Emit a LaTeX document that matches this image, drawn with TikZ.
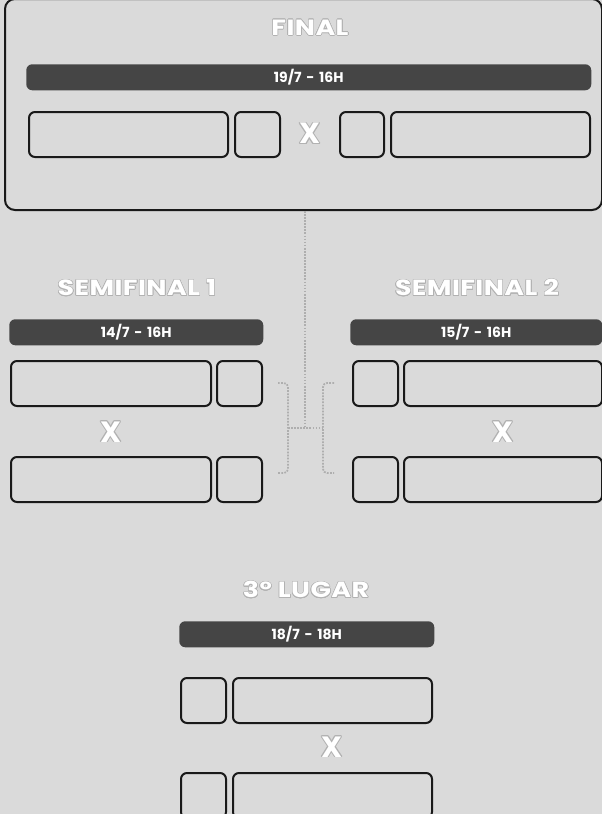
\documentclass[tikz,border=0pt]{standalone}
\usepackage{fontspec}
\setmainfont{Poppins}
\newfontfamily\widefont[FakeStretch=1.22, LetterSpace=2]{Poppins}
\newfontfamily\datefont[WordSpace=1.6]{Poppins}
\usepackage[copies]{contour}
\contourlength{0.45pt}
\contournumber{16}
\definecolor{bg}{HTML}{DADADA}
\definecolor{bar}{HTML}{454545}
\definecolor{rim}{HTML}{B2B2B2}
\definecolor{dots}{HTML}{AEAEAE}

\tikzset{
  teambox/.style={draw=black!90, line width=1.5pt, rounded corners=4.5pt, fill=bg, inner sep=0pt, anchor=north west, minimum height=45*0.75pt},
  datebar/.style={fill=bar, rounded corners=4.5pt, text=white, font=\datefont\bfseries\fontsize{10.5}{11}\selectfont, inner sep=0pt, anchor=north west, minimum height=26*0.75pt},
  title/.style={text=white, font=\widefont\bfseries\fontsize{16.5}{18}\selectfont, inner sep=0pt},
  versus/.style={text=white, font=\bfseries\fontsize{22}{24}\selectfont, inner sep=0pt},
  link/.style={draw=dots, line width=1.3pt, densely dotted}
}

\begin{document}
\begin{tikzpicture}[x=0.75pt,y=0.75pt,yscale=-1,xscale=1]
\fill[bg] (0,0) rectangle (602,814);
\useasboundingbox (0,0) rectangle (602,814);
\clip (0,0) rectangle (602,814);

% Final
\node[draw=black!90, line width=1.5pt, rounded corners=7.5pt, inner sep=0pt, anchor=north west, minimum width=597*0.75pt, minimum height=211*0.75pt] (final) at (4,-2) {};
\node[title] (finalT) at (310,28) {\contour{rim}{FINAL}};
\node[datebar, minimum width=565*0.75pt] (finalD) at (26,64) {19/7 - 16H};
\node[teambox, minimum width=199*0.75pt] (finalA) at (28,111) {};
\node[teambox, minimum width=45*0.75pt] (finalAs) at (234,111) {};
\node[versus] (finalX) at (310,134) {\contour{rim}{X}};
\node[teambox, minimum width=44*0.75pt] (finalBs) at (339,111) {};
\node[teambox, minimum width=199*0.75pt] (finalB) at (390,111) {};

% Semifinal 1
\node[title] (semiOneT) at (137,288) {\contour{rim}{SEMIFINAL 1}};
\node[datebar, minimum width=254*0.75pt] (semiOneD) at (9,319) {14/7 - 16H};
\node[teambox, minimum width=200*0.75pt] (semiOneA) at (10,360) {};
\node[teambox, minimum width=45*0.75pt] (semiOneAs) at (216,360) {};
\node[versus] (semiOneX) at (111,432) {\contour{rim}{X}};
\node[teambox, minimum width=200*0.75pt] (semiOneB) at (10,456) {};
\node[teambox, minimum width=45*0.75pt] (semiOneBs) at (216,456) {};

% Semifinal 2
\node[title] (semiTwoT) at (477,288) {\contour{rim}{SEMIFINAL 2}};
\node[datebar, minimum width=252*0.75pt] (semiTwoD) at (350,319) {15/7 - 16H};
\node[teambox, minimum width=45*0.75pt] (semiTwoAs) at (352,360) {};
\node[teambox, minimum width=198*0.75pt] (semiTwoA) at (403,360) {};
\node[versus] (semiTwoX) at (503,432) {\contour{rim}{X}};
\node[teambox, minimum width=45*0.75pt] (semiTwoBs) at (352,456) {};
\node[teambox, minimum width=198*0.75pt] (semiTwoB) at (403,456) {};

% 3o lugar
\node[title] (thirdT) at (306,590) {\contour{rim}{3º LUGAR}};
\node[datebar, minimum width=255*0.75pt] (thirdD) at (179,621) {18/7 - 18H};
\node[teambox, minimum width=45*0.75pt] (thirdAs) at (180,677) {};
\node[teambox, minimum width=199*0.75pt] (thirdA) at (232,677) {};
\node[versus] (thirdX) at (332,747) {\contour{rim}{X}};
\node[teambox, minimum width=45*0.75pt] (thirdBs) at (180,772) {};
\node[teambox, minimum width=199*0.75pt] (thirdB) at (232,772) {};

% Dotted links
\coordinate (hub) at (305,428);
\coordinate (hubL) at (288,428);
\coordinate (hubR) at (323,428);
\draw[link] (final.south -| hub) -- (hub);
\draw[link] (hubL) -- (hubR);
\draw[link, rounded corners=3pt] (278,383) -- (288,383) -- (288,473) -- (278,473);
\draw[link, rounded corners=3pt] (334,383) -- (323,383) -- (323,473) -- (334,473);
\end{tikzpicture}
\end{document}
